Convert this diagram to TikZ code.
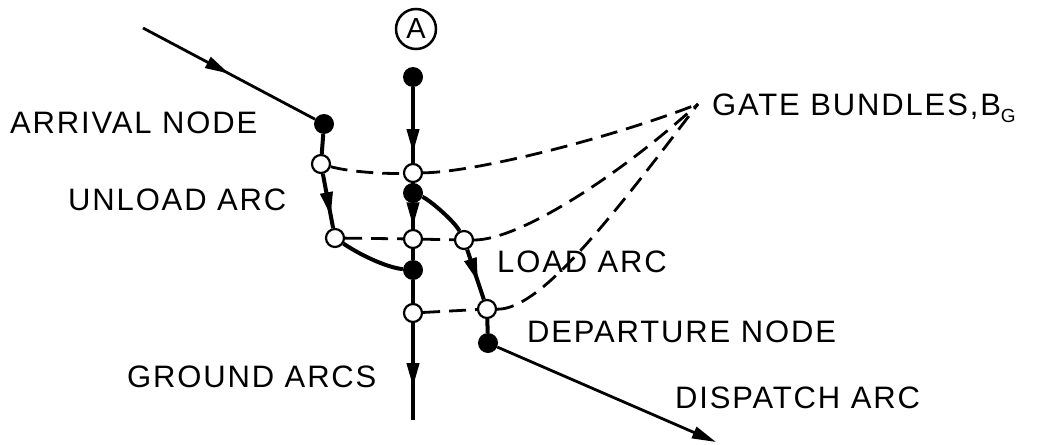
\documentclass[tikz,border=0pt]{standalone}
\usepackage{fontspec}
\setmainfont[LetterSpace=6]{Liberation Sans}
\usepackage{tikz}
\usetikzlibrary{arrows.meta, decorations.markings}

\tikzset{
	fnode/.style={circle,fill,inner sep=0pt,minimum size=20pt},
	onode/.style={circle,draw,fill=white,line width=2.2pt,inner sep=0pt,minimum size=18pt},
	arc/.style={line width=4pt},
	flight/.style={line width=2.8pt},
	gate/.style={line width=2.8pt,dash pattern=on 17pt off 9pt},
	lbl/.style={anchor=base west,inner sep=0pt,font=\fontsize{31}{36}\selectfont},
	tip/.style={-{Triangle[length=24pt,width=12pt]}},
	marr/.style={postaction={decorate},decoration={markings,mark=at position #1 with {\arrow{Triangle[length=24pt,width=12pt]}}}},
}

\begin{document}
\begin{tikzpicture}[x=1pt,y=-1pt]
		\useasboundingbox (0,0) rectangle (1043,444);
		\node[circle,draw,line width=2.5pt,minimum size=40pt,inner sep=0pt,font=\fontsize{29}{30}\selectfont] (spot) at (416,29) {A}; %ゲートA
		\coordinate (arrin) at (143,28);
		\coordinate (gend) at (413,420);
		\coordinate (disp) at (716,442);
		\coordinate (bundle) at (698,104);
		\node[fnode] (a0) at (413,77) {};
		\node[fnode] (arr) at (324,124) {}; %到着ノード
		\node[onode] (u1) at (321,164) {};
		\node[onode] (u2) at (335,238) {};
		\node[onode] (g1) at (413,173) {};
		\node[fnode] (g2) at (413,193) {};
		\node[onode] (g3) at (413,239) {};
		\node[fnode] (g4) at (413,270) {};
		\node[onode] (g5) at (413,313) {};
		\node[onode] (l1) at (464,240) {};
		\node[onode] (dep) at (487,309) {}; %出発ノード
		\node[fnode] (depf) at (488,343) {};
		% 弧
		\draw[flight,marr=0.5] (arrin)--(arr);
		\draw[arc] (arr)--(u1);
		\draw[arc,marr=0.78] (u1)--(u2);
		\draw[arc] (u2) .. controls (365,258) and (390,268) .. (g4);
		\draw[arc,marr=0.87] (a0)--(g1);
		\draw[arc] (g1)--(g2);
		\draw[arc,marr=0.9] (g2)--(g3);
		\draw[arc] (g3)--(g4);
		\draw[arc] (g4)--(g5);
		\draw[arc,marr=0.66] (g5)--(gend);
		\draw[arc] (g2) .. controls (430,200) and (455,222) .. (l1);
		\draw[arc,marr=0.65] (l1)--(dep);
		\draw[arc] (dep)--(depf);
		\draw[flight,tip] (depf)--(disp);
		% ゲートバンドル
		\draw[gate] (u1) .. controls (350,172) and (385,174) .. (g1);
		\draw[gate] (g1) .. controls (480,172) and (620,135) .. (bundle);
		\draw[gate] (u2)--(g3)--(l1);
		\draw[gate] (l1) .. controls (520,240) and (620,175) .. (bundle);
		\draw[gate] (g5)--(dep);
		\draw[gate] (dep) .. controls (540,310) and (610,220) .. (bundle);
		% ラベル
		\node[lbl] (arrlbl) at (10,133) {ARRIVAL NODE};
		\node[lbl] (unlbl) at (68,210) {UNLOAD ARC};
		\node[lbl] (grlbl) at (127,387) {GROUND ARCS};
		\node[lbl] (ldlbl) at (497,272) {LOAD ARC};
		\node[lbl] (deplbl) at (527,342) {DEPARTURE NODE};
		\node[lbl] (displbl) at (675,408) {DISPATCH ARC};
		\node[lbl] (gatelbl) at (712,115) {GATE BUNDLES,B\raisebox{-7pt}{\fontsize{19}{20}\selectfont G}};
	\end{tikzpicture}
\end{document}
